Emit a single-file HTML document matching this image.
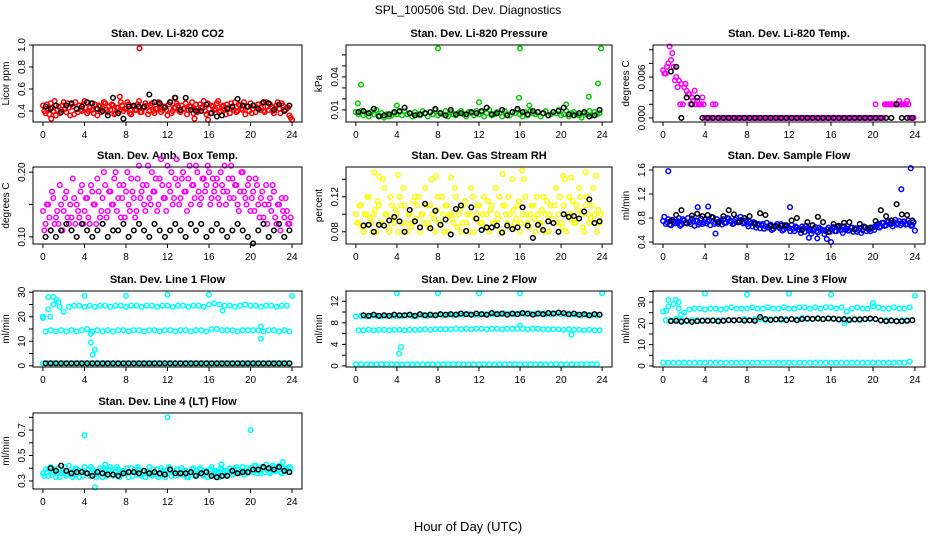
<!DOCTYPE html>
<html><head><meta charset="utf-8"><style>
html,body{margin:0;padding:0;background:#fff;}
svg{display:block;font-family:"Liberation Sans",sans-serif;}
</style></head><body>
<svg id="fig" width="936" height="540" viewBox="0 0 936 540">
<text x="468" y="14" text-anchor="middle" font-size="12">SPL_100506  Std. Dev. Diagnostics</text>
<text x="468" y="531" text-anchor="middle" font-size="13">Hour of Day (UTC)</text>
</svg>
<script>
// ---- data ----
const xTicks=[0,4,8,12,16,20,24];
const co2A=[0.45,0.38,0.42,0.47,0.40,0.36,0.44,0.41,0.48,0.39,0.43,0.46,0.37,0.42,0.45,0.40,0.49,0.38,0.43,0.41,0.46,0.36,0.44,0.42,0.47,0.39,0.41,0.45,0.38,0.43,0.48,0.40,0.42,0.46,0.37,0.44,0.41,0.49,0.39,0.43,0.45,0.40,0.47,0.38,0.42,0.46,0.41,0.44,0.36,0.48,0.40,0.43,0.45,0.39,0.42,0.47,0.41,0.44,0.38,0.46,0.40,0.43,0.49,0.37,0.42,0.45,0.41,0.47,0.39,0.44,0.42,0.46,0.38,0.43,0.48,0.40,0.45,0.41,0.37,0.44,0.47,0.42,0.39,0.46,0.43,0.40,0.48,0.41,0.44,0.38,0.45,0.42,0.47,0.40,0.43,0.36];
const co2B=[0.40,0.46,0.37,0.43,0.49,0.41,0.38,0.45,0.42,0.47,0.36,0.44,0.48,0.39,0.41,0.46,0.43,0.40,0.47,0.38,0.42,0.45,0.39,0.48,0.41,0.44,0.46,0.37,0.43,0.40,0.45,0.42,0.48,0.38,0.44,0.41,0.46,0.39,0.43,0.47,0.37,0.45,0.40,0.42,0.48,0.39,0.44,0.41,0.46,0.38,0.43,0.47,0.40,0.45,0.42,0.37,0.44,0.48,0.41,0.39,0.46,0.43,0.40,0.47,0.38,0.44,0.42,0.49,0.40,0.45,0.37,0.43,0.47,0.41,0.39,0.46,0.42,0.48,0.44,0.40,0.38,0.45,0.43,0.41,0.47,0.39,0.44,0.46,0.40,0.42,0.48,0.38,0.45,0.41,0.43,0.34];
const co2Out=[[9.3,0.97],[0.8,0.33],[12.7,0.52],[15.9,0.32],[14.6,0.33],[24,0.32],[7.4,0.53]];
const co2Black=[0.44,0.42,0.45,0.39,0.45,0.47,0.42,0.44,0.48,0.47,0.42,0.40,0.36,0.52,0.38,0.33,0.44,0.45,0.44,0.44,0.55,0.48,0.47,0.43,0.48,0.52,0.41,0.52,0.41,0.40,0.40,0.46,0.38,0.35,0.36,0.42,0.44,0.51,0.45,0.44,0.45,0.42,0.48,0.47,0.41,0.46,0.40,0.45];

const presA=[0.008,0.006,0.009,0.005,0.007,0.004,0.008,0.006,0.010,0.005,0.007,0.003,0.006,0.004,0.005,0.007,0.006,0.008,0.005,0.009,0.006,0.007,0.004,0.008,0.006,0.005,0.009,0.007,0.004,0.008,0.006,0.010,0.005,0.007,0.006,0.009,0.004,0.008,0.006,0.005,0.007,0.009,0.006,0.004,0.008,0.007,0.005,0.009,0.006,0.008,0.004,0.007,0.010,0.005,0.006,0.008,0.007,0.004,0.009,0.006,0.005,0.008,0.007,0.010,0.006,0.004,0.008,0.005,0.009,0.007,0.006,0.008,0.004,0.007,0.009,0.005,0.006,0.008,0.007,0.010,0.005,0.006,0.009,0.004,0.007,0.008,0.006,0.005,0.003,0.007,0.006,0.009,0.005,0.008,0.006,0.007];
const presOut=[[0.2,0.016],[0.5,0.033],[8,0.066],[16,0.066],[23.9,0.066],[23.6,0.034],[22.7,0.022],[15.9,0.021],[12,0.017],[20.5,0.015],[4,0.014],[16.9,0.014]];
const presBlack=[0.008,0.009,0.007,0.011,0.004,0.005,0.006,0.008,0.009,0.012,0.007,0.005,0.006,0.007,0.008,0.011,0.007,0.005,0.010,0.006,0.007,0.006,0.008,0.007,0.009,0.012,0.006,0.007,0.010,0.005,0.008,0.011,0.008,0.006,0.009,0.008,0.007,0.005,0.008,0.009,0.012,0.006,0.005,0.007,0.008,0.004,0.005,0.010];

const tempA=[0.007,0.0065,0.008,0.0085,0.0075,0.006,0.0055,0.005,0.0045,0.004,0.0035,0.003,0.004,0.0025,0.002,0.003,0,0,0,0.002,0.002,0,0,0,0,0,0,0,0,0,0,0,0,0,0,0,0,0,0,0,0,0,0,0,0,0,0,0,0,0,0,0,0,0,0,0,0,0,0,0,0,0,0,0,0,0,0,0,0,0,0,0,0,0,0,0,0,0,0,0,0,0.002,0,0,0,0.002,0.002,0.002,0.002,0.002,0.0025,0.002,0.002,0.0025,0,0];
const tempB=[0.0065,0.0075,0.0105,0.0095,0.0055,0.0045,0.002,0.002,0.005,0.0035,0.002,0.0025,0.002,0.002,0.002,0.002,0,0,0,0,0,0,0,0,0,0,0,0,0,0,0,0,0,0,0,0,0,0,0,0,0,0,0,0,0,0,0,0,0,0,0,0,0,0,0,0,0,0,0,0,0,0,0,0,0,0,0,0,0,0,0,0,0,0,0,0,0,0,0,0,0,0,0,0,0.002,0.002,0.002,0.002,0.002,0.002,0.002,0.002,0.002,0.002,0,0];
const tempBlack=[null,0.0068,0.0075,0,0.003,0.002,0.003,0,0,0,0,0,0,0,0,0,0,0,0,0,0,0,0,0,0,0,0,0,0,0,0,0,0,0,0,0,0,0,0,0,0,0,0,0,0.002,0,0,0];

const ambA=[0.14,0.12,0.15,0.11,0.16,0.13,0.12,0.15,0.14,0.17,0.12,0.13,0.16,0.15,0.13,0.18,0.14,0.16,0.12,0.17,0.15,0.19,0.13,0.16,0.18,0.14,0.17,0.15,0.20,0.16,0.13,0.18,0.17,0.15,0.19,0.16,0.14,0.21,0.17,0.15,0.18,0.16,0.20,0.17,0.14,0.19,0.18,0.16,0.21,0.17,0.15,0.19,0.18,0.16,0.20,0.17,0.19,0.15,0.18,0.21,0.17,0.16,0.19,0.18,0.20,0.16,0.17,0.19,0.15,0.18,0.21,0.17,0.16,0.19,0.18,0.15,0.17,0.20,0.16,0.18,0.14,0.17,0.19,0.15,0.16,0.13,0.18,0.15,0.14,0.17,0.12,0.15,0.16,0.13,0.14,0.12];
const ambB=[0.11,0.15,0.13,0.17,0.12,0.14,0.18,0.11,0.16,0.13,0.15,0.19,0.12,0.14,0.17,0.12,0.16,0.13,0.18,0.15,0.12,0.17,0.14,0.20,0.13,0.17,0.15,0.19,0.14,0.18,0.16,0.13,0.20,0.14,0.17,0.13,0.19,0.16,0.18,0.14,0.21,0.15,0.17,0.19,0.15,0.22,0.16,0.14,0.18,0.20,0.16,0.22,0.15,0.19,0.17,0.14,0.21,0.18,0.16,0.20,0.15,0.19,0.17,0.21,0.15,0.19,0.18,0.16,0.20,0.17,0.15,0.19,0.21,0.16,0.18,0.14,0.20,0.17,0.15,0.19,0.16,0.14,0.18,0.13,0.17,0.15,0.12,0.16,0.18,0.13,0.15,0.11,0.14,0.16,0.12,0.13];
const ambBlack=[0.10,0.11,0.10,0.11,0.12,0.11,0.10,0.12,0.11,0.10,0.11,0.12,0.10,0.11,0.11,0.12,0.10,0.11,0.12,0.11,0.10,0.12,0.11,0.10,0.11,0.12,0.11,0.10,0.12,0.11,0.12,0.10,0.11,0.12,0.11,0.10,0.11,0.12,0.11,0.10,0.09,0.11,0.12,0.10,0.11,0.12,0.10,0.11];

const rhA=[0.10,0.09,0.11,0.08,0.10,0.12,0.09,0.10,0.08,0.11,0.09,0.13,0.10,0.08,0.11,0.09,0.10,0.12,0.09,0.11,0.08,0.10,0.09,0.12,0.11,0.08,0.10,0.13,0.09,0.11,0.10,0.08,0.12,0.09,0.10,0.11,0.08,0.10,0.09,0.12,0.10,0.08,0.11,0.09,0.10,0.13,0.08,0.10,0.11,0.09,0.12,0.10,0.08,0.11,0.09,0.10,0.12,0.08,0.11,0.09,0.10,0.14,0.09,0.11,0.08,0.10,0.12,0.09,0.10,0.11,0.08,0.10,0.09,0.12,0.10,0.08,0.11,0.09,0.13,0.10,0.09,0.11,0.08,0.12,0.10,0.09,0.11,0.13,0.10,0.08,0.12,0.09,0.11,0.10,0.08,0.09];
const rhB=[0.09,0.11,0.085,0.10,0.12,0.095,0.08,0.105,0.115,0.09,0.14,0.10,0.085,0.12,0.095,0.105,0.08,0.11,0.13,0.09,0.10,0.085,0.115,0.095,0.12,0.10,0.09,0.11,0.085,0.14,0.095,0.105,0.09,0.12,0.08,0.11,0.10,0.095,0.13,0.085,0.105,0.09,0.115,0.10,0.08,0.12,0.095,0.11,0.09,0.10,0.085,0.115,0.105,0.09,0.13,0.095,0.08,0.11,0.10,0.12,0.085,0.105,0.095,0.115,0.09,0.14,0.10,0.085,0.11,0.095,0.12,0.09,0.105,0.08,0.115,0.10,0.095,0.11,0.09,0.12,0.085,0.14,0.10,0.095,0.115,0.09,0.105,0.12,0.085,0.11,0.10,0.095,0.13,0.09,0.105,0.10];
const rhOut=[[1.8,0.148],[2.3,0.143],[4.1,0.145],[7.8,0.143],[9.3,0.142],[14.3,0.146],[16.2,0.150],[22.4,0.148],[23.4,0.144],[20.2,0.144],[21,0.142]];
const rhBlack=[null,0.087,0.088,0.080,0.088,0.087,0.093,0.097,0.092,0.080,0.105,0.092,0.085,0.112,0.084,0.104,0.088,0.094,0.077,0.106,0.110,0.081,0.108,0.095,0.082,0.085,0.085,0.087,0.079,0.087,0.083,0.085,0.108,0.087,0.073,0.088,0.082,0.092,0.090,0.080,0.100,0.097,0.098,0.095,0.103,0.117,0.090,0.092];

const sfA=[0.75,0.70,0.78,0.68,0.74,0.72,0.80,0.69,0.76,0.71,0.73,0.79,0.67,0.75,0.72,0.70,0.77,0.74,0.68,0.81,0.73,0.70,0.76,0.78,0.72,0.79,0.74,0.71,0.80,0.75,0.77,0.73,0.70,0.74,0.66,0.72,0.68,0.63,0.70,0.66,0.64,0.69,0.62,0.67,0.65,0.70,0.61,0.66,0.63,0.68,0.58,0.64,0.60,0.66,0.57,0.63,0.61,0.59,0.65,0.56,0.62,0.60,0.58,0.64,0.61,0.65,0.58,0.63,0.60,0.66,0.62,0.59,0.64,0.61,0.57,0.63,0.60,0.65,0.62,0.58,0.64,0.67,0.70,0.66,0.72,0.68,0.74,0.70,0.73,0.69,0.75,0.71,0.74,0.70,0.72,0.68];
const sfB=[0.82,0.73,0.69,0.77,0.71,0.75,0.67,0.78,0.72,0.80,0.70,0.74,0.76,0.69,0.79,0.73,0.71,0.76,0.82,0.70,0.78,0.74,0.69,0.72,0.80,0.75,0.70,0.77,0.73,0.82,0.71,0.76,0.66,0.71,0.73,0.64,0.70,0.68,0.62,0.72,0.67,0.60,0.66,0.70,0.63,0.59,0.68,0.64,0.58,0.62,0.66,0.61,0.55,0.63,0.67,0.59,0.54,0.62,0.58,0.64,0.60,0.53,0.61,0.57,0.63,0.58,0.66,0.60,0.55,0.62,0.59,0.64,0.57,0.63,0.60,0.55,0.66,0.58,0.61,0.64,0.60,0.69,0.64,0.72,0.67,0.75,0.70,0.66,0.77,0.71,0.68,0.74,0.69,0.76,0.67,0.73];
const sfOut=[[0.5,1.58],[23.6,1.63],[22.7,1.28],[12.1,0.98],[3.3,0.98],[4.3,0.99],[16,0.40],[5,0.54],[14.7,0.46],[13.9,0.47],[15.6,0.45],[24,0.59]];
const sfBlack=[null,0.75,0.85,0.93,0.71,0.84,0.87,0.83,0.85,0.81,0.73,0.83,0.93,0.86,0.73,0.80,0.83,0.70,0.88,0.85,0.67,0.66,0.67,0.68,0.76,0.80,0.60,0.73,0.68,0.82,0.73,0.57,0.70,0.67,0.72,0.73,0.61,0.70,0.64,0.64,0.75,0.93,0.83,0.76,1.03,0.86,0.85,0.76];

const l1Top=[20,23,25,26,22,24,24.5,24.5,24,24.5,24,24.5,24.5,24,24.5,24.5,24,24.5,24.5,24,24.5,24.5,24,24.5,24.5,24,24.5,24.5,24,24.5,24.5,24,25,25.5,25,24.5,24.5,24,24.5,25,24.5,24.5,24,24.5,24.5,24,24.5,24.5];
const l1Mid=[14,14.5,14,14.5,14,14.5,14,14.5,15,14,14.5,14,14.5,14,14.5,14.5,14,14.5,14.5,14,14.5,14.5,14,14.5,14.5,14,14.5,14.5,14,14.5,14.5,14,15,15,14.5,14.5,14.5,14,14.5,14.5,14.5,14.5,14,14.5,14.5,14,14.5,14];
const l1Low=[1,1,1,1,1,1,1,1,1,1,1,1,1,1,1,1,1,1,1,1,1,1,1,1,1,1,1,1,1,1,1,1,1,1,1,1,1,1,1,1,1,1,1,1,1,1,1,1];
const l1Out=[[0,19.5],[0.5,28],[0.7,20],[1,28],[1.3,27],[1.6,24],[4,28.5],[8,28.5],[12,29],[16,29],[24,28.5],[17.3,22.5],[4.6,9.5],[4.8,4.5],[5,6.5],[4.6,13],[21,11],[21,16]];
const l1Black=[1,1,1,1,1,1,1,1,1,1,1,1,1,1,1,1,1,1,1,1,1,1,1,1,1,1,1,1,1,1,1,1,1,1,1,1,1,1,1,1,1,1,1,1,1,1,1,1];

const l2Top=[9.2,9.3,9.2,9.3,9.3,9.2,9.3,9.3,9.2,9.3,9.4,9.3,9.3,9.4,9.3,9.4,9.5,9.4,9.5,9.4,9.5,9.5,9.6,9.5,9.5,9.6,9.5,9.6,9.6,9.7,9.6,9.6,9.7,9.6,9.7,9.6,9.7,9.6,9.6,9.7,9.6,9.6,9.5,9.5,9.4,9.5,9.4,9.4];
const l2Mid=[6.6,6.6,6.7,6.6,6.7,6.7,6.6,6.7,6.7,6.6,6.7,6.7,6.7,6.8,6.7,6.8,6.8,6.8,6.8,6.9,6.8,6.9,6.8,6.9,6.9,6.8,6.9,6.9,6.8,6.9,6.9,6.9,6.9,6.8,6.9,6.9,6.8,6.8,6.8,6.8,6.7,6.8,6.7,6.7,6.6,6.7,6.6,6.6];
const l2Low=[0.3,0.3,0.3,0.3,0.3,0.3,0.3,0.3,0.3,0.3,0.3,0.3,0.3,0.3,0.3,0.3,0.3,0.3,0.3,0.3,0.3,0.3,0.3,0.3,0.3,0.3,0.3,0.3,0.3,0.3,0.3,0.3,0.3,0.3,0.3,0.3,0.3,0.3,0.3,0.3,0.3,0.3,0.3,0.3,0.3,0.3,0.3,0.3];
const l2Out=[[4,13.5],[8,13.5],[12,13.5],[16,13.5],[24,13.5],[4.4,3.5],[4.2,2.3],[21,5.8],[16,7.5]];
const l2Black=[null,9.4,9.3,9.5,9.3,9.4,9.3,9.5,9.4,9.4,9.5,9.3,9.6,9.4,9.5,9.4,9.6,9.5,9.6,9.5,9.7,9.6,9.5,9.7,9.6,9.5,9.8,9.6,9.7,9.5,9.7,9.6,9.8,9.7,9.5,9.7,9.6,9.8,9.7,9.9,9.8,9.6,9.7,9.5,9.6,9.4,9.6,9.5];

const l3Top=[25.5,28,29,27,25,26.5,27,27,26.5,27,27,26.5,27,27.5,27,27,27,27.5,27,27,27.5,27,27,27.5,27,27,27.5,27.5,27,27.5,27,27.5,27.5,27,27.5,25.5,27,27.5,27,27,28,27.5,27,27,27.5,27,27,27.5];
const l3Mid=[21.5,21.5,22,21.5,21,21.5,21.5,21,21.5,21.5,21.5,21.5,21.5,21.5,21.5,22,21.5,22,22,21.5,22,22,21.5,22,22,22,22.5,22,22,22.5,22,22.5,22,22,21.5,22,22,21.5,22,22,22,21.5,21.5,21.5,21,21.5,21.5,21.5];
const l3Low=[1.5,1.5,1.5,1.5,1.5,1.5,1.5,1.5,1.5,1.5,1.5,1.5,1.5,1.5,1.5,1.5,1.5,1.5,1.5,1.5,1.5,1.5,1.5,1.5,1.5,1.5,1.5,1.5,1.5,1.5,1.5,1.5,1.5,1.5,1.5,1.5,1.5,1.5,1.5,1.5,1.5,1.5,1.5,1.5,1.5,1.5,1.5,2];
const l3Out=[[4,34],[8,33.5],[12,34],[16,33.5],[24,33],[0.5,31],[1.2,31],[1.5,30],[0.3,26],[1.7,24],[17.3,20],[20,29.5]];
const l3Black=[null,21,21.2,20.8,21.3,20.7,21,21.3,21.2,21.3,21,21.2,21.5,21.4,21.6,21.3,21.4,21.2,23,22,21.6,21.8,22,21.5,22,21.5,22,22.3,22.1,22.3,22,22.3,22.2,21.8,22,21.6,21.8,21.9,22,22.3,22,21.4,21,21.3,21,21,21.2,21.5];

const l4A=[0.36,0.39,0.34,0.41,0.37,0.33,0.40,0.36,0.38,0.34,0.42,0.37,0.35,0.39,0.33,0.38,0.41,0.36,0.34,0.39,0.37,0.35,0.40,0.33,0.38,0.36,0.41,0.34,0.37,0.39,0.35,0.38,0.36,0.33,0.40,0.37,0.35,0.39,0.34,0.38,0.36,0.41,0.34,0.37,0.39,0.35,0.38,0.33,0.36,0.40,0.37,0.34,0.39,0.36,0.35,0.38,0.33,0.37,0.40,0.35,0.36,0.39,0.34,0.38,0.36,0.41,0.35,0.37,0.33,0.39,0.36,0.38,0.40,0.35,0.37,0.39,0.36,0.41,0.38,0.36,0.40,0.37,0.42,0.38,0.36,0.40,0.43,0.37,0.39,0.41,0.38,0.42,0.36,0.40,0.39,0.41];
const l4B=[0.34,0.37,0.40,0.35,0.39,0.36,0.33,0.38,0.41,0.35,0.37,0.33,0.40,0.36,0.38,0.34,0.36,0.39,0.41,0.35,0.33,0.38,0.36,0.40,0.34,0.39,0.35,0.37,0.41,0.33,0.38,0.36,0.40,0.37,0.34,0.39,0.41,0.35,0.38,0.33,0.37,0.35,0.39,0.36,0.33,0.40,0.36,0.38,0.41,0.34,0.37,0.39,0.35,0.40,0.38,0.33,0.36,0.39,0.34,0.38,0.40,0.35,0.37,0.33,0.39,0.35,0.38,0.36,0.40,0.34,0.38,0.35,0.37,0.39,0.41,0.36,0.38,0.35,0.40,0.37,0.39,0.42,0.36,0.38,0.41,0.37,0.39,0.36,0.42,0.38,0.40,0.37,0.41,0.39,0.37,0.40];
const l4Out=[[4,0.66],[12,0.80],[20,0.70],[5,0.25],[6,0.43],[17.2,0.43],[23.1,0.45]];
const l4Black=[null,0.40,0.38,0.42,0.38,0.36,0.37,0.37,0.36,0.34,0.37,0.36,0.35,0.35,0.34,0.36,0.37,0.37,0.36,0.38,0.36,0.37,0.36,0.35,0.39,0.36,0.36,0.36,0.37,0.34,0.36,0.37,0.34,0.33,0.34,0.34,0.38,0.36,0.37,0.37,0.39,0.39,0.41,0.40,0.39,0.41,0.38,0.37];

// ---- layout ----
const NS='http://www.w3.org/2000/svg';
const svg=document.getElementById('fig');
const COLS=[[33,302],[346,612],[653,925]];
const ROWS=[[45,122],[167,244],[291,367],[413,489]];
function mk(tag,attrs,parent){const e=document.createElementNS(NS,tag);for(const k in attrs)e.setAttribute(k,attrs[k]);(parent||svg).appendChild(e);return e;}

const panels=[
 {id:'co2',title:'Stan. Dev. Li-820 CO2',ylab:'Licor ppm',c:0,r:0,ymin:0.3,ymax:1.0,yt:[0.4,0.6,0.8,1.0],yl:['0.4','0.6','0.8','1.0'],col:'#ff0000',main:[co2A,co2B],out:co2Out,black:co2Black},
 {id:'pressure',title:'Stan. Dev. Li-820 Pressure',ylab:'kPa',c:1,r:0,ymin:-0.001,ymax:0.069,yt:[0.01,0.02,0.03,0.04,0.05,0.06],yl:['0.01','','','0.04','',''],col:'#00cc00',main:[presA],out:presOut,black:presBlack},
 {id:'licor-temp',title:'Stan. Dev. Li-820 Temp.',ylab:'degrees C',c:2,r:0,ymin:-0.0006,ymax:0.0107,yt:[0,0.002,0.004,0.006,0.008,0.010],yl:['0.000','','','0.006','',''],col:'#ff00ff',main:[tempA,tempB],out:[],black:tempBlack},
 {id:'amb-temp',title:'Stan. Dev. Amb. Box Temp.',ylab:'degrees C',c:0,r:1,ymin:0.089,ymax:0.208,yt:[0.10,0.15,0.20],yl:['0.10','','0.20'],col:'#ff00ff',main:[ambA,ambB],out:[],black:ambBlack},
 {id:'rh',title:'Stan. Dev. Gas Stream RH',ylab:'percent',c:1,r:1,ymin:0.066,ymax:0.154,yt:[0.08,0.10,0.12,0.14],yl:['0.08','','0.12',''],col:'#ffff00',main:[rhA,rhB],out:rhOut,black:rhBlack},
 {id:'sample-flow',title:'Stan. Dev. Sample Flow',ylab:'ml/min',c:2,r:1,ymin:0.367,ymax:1.65,yt:[0.4,0.8,1.2,1.6],yl:['0.4','0.8','1.2','1.6'],col:'#0000ff',main:[sfA,sfB],out:sfOut,black:sfBlack},
 {id:'line1',title:'Stan. Dev. Line 1 Flow',ylab:'ml/min',c:0,r:2,ymin:-0.5,ymax:30.5,yt:[0,5,10,15,20,25,30],yl:['0','','10','','20','','30'],col:'#00ffff',main:[l1Top,l1Mid,l1Low],out:l1Out,black:l1Black},
 {id:'line2',title:'Stan. Dev. Line 2 Flow',ylab:'ml/min',c:1,r:2,ymin:-0.2,ymax:13.9,yt:[0,2,4,6,8,10,12],yl:['0','','4','','8','','12'],col:'#00ffff',main:[l2Top,l2Mid,l2Low],out:l2Out,black:l2Black},
 {id:'line3',title:'Stan. Dev. Line 3 Flow',ylab:'ml/min',c:2,r:2,ymin:-0.5,ymax:35.2,yt:[0,5,10,15,20,25,30,35],yl:['0','','10','','20','','30',''],col:'#00ffff',main:[l3Top,l3Mid,l3Low],out:l3Out,black:l3Black},
 {id:'line4',title:'Stan. Dev. Line 4 (LT) Flow',ylab:'ml/min',c:0,r:3,ymin:0.237,ymax:0.834,yt:[0.3,0.4,0.5,0.6,0.7,0.8],yl:['0.3','','0.5','','0.7',''],col:'#00ffff',main:[l4A,l4B],out:l4Out,black:l4Black}
];

panels.forEach(p=>{
 const [x0,x1]=COLS[p.c],[y0,y1]=ROWS[p.r];
 const w=x1-x0;
 const xs=h=>x0+(h+0.96)/25.92*w;
 const ys=v=>y1-(v-p.ymin)/(p.ymax-p.ymin)*(y1-y0);
 const g=mk('g',{});
 
 
 const t=mk('text',{x:(x0+x1)/2,y:y0-8,'text-anchor':'middle','font-size':11,'font-weight':'bold'},g);
 t.textContent=p.title;
 
 
 const yl=mk('text',{x:0,y:0,'text-anchor':'middle','font-size':10,transform:`translate(${x0-24},${(y0+y1)/2}) rotate(-90)`},g);
 yl.textContent=p.ylab;
 
 
 const pts=mk('g',{fill:'none','stroke-width':1.5},g);
 
 
 const dot=(h,v,col)=>{if(v===null)return;const c=mk('circle',{cx:xs(h).toFixed(1),cy:ys(v).toFixed(1),r:2.3,stroke:col},pts);
  
  };
 p.main.forEach((arr,k)=>{const st=24/arr.length;arr.forEach((v,i)=>dot(i*st+(k%2?st/2:0),v,p.col));});
 p.out.forEach(o=>dot(o[0],o[1],p.col));
 const bs=24/p.black.length;
 p.black.forEach((v,i)=>dot(i*bs+bs/2,v,'#000'));
 const b=mk('rect',{x:x0,y:y0,width:w,height:y1-y0,fill:'none',stroke:'#000','stroke-width':1},g);
 
 
 const xa=mk('g',{},g);
 
 
 xTicks.forEach(h=>{const X=xs(h);mk('line',{x1:X,x2:X,y1:y1,y2:y1+4,stroke:'#000'},xa);
  const tl=mk('text',{x:X,y:y1+16,'text-anchor':'middle','font-size':10},xa);tl.textContent=h;
  
  });
 const ya=mk('g',{},g);
 
 
 p.yt.forEach((v,i)=>{const Y=ys(v);mk('line',{x1:x0-4,x2:x0,y1:Y,y2:Y,stroke:'#000'},ya);
  if(p.yl[i]){const tl=mk('text',{x:0,y:0,'text-anchor':'middle','font-size':10,transform:`translate(${x0-8},${Y}) rotate(-90)`},ya);tl.textContent=p.yl[i];
  
  }});
});
</script>
</body></html>
